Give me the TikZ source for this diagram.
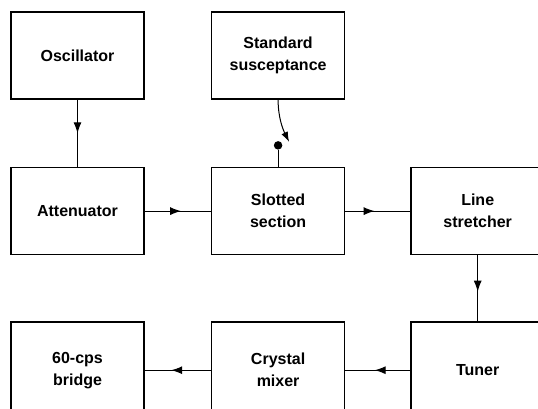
\documentclass[tikz,border=0pt]{standalone}
\usepackage{fontspec}
\setmainfont{Liberation Sans}
\usetikzlibrary{arrows.meta,positioning,decorations.markings}

\begin{document}
\begin{tikzpicture}[
        blk/.style={draw,line width=1.6pt,minimum width=133pt,minimum height=87pt,align=center,
          font=\bfseries\fontsize{16}{22}\selectfont},
        low/.style={blk,minimum height=96pt},
        link/.style={line width=1pt,postaction={decorate},
          decoration={markings,mark=at position #1 with {\arrow{Latex[length=11pt,width=8pt]}}}},
        link/.default=0.55,
        probe/.style={circle,fill,inner sep=0pt,minimum size=8.5pt}
      ]
        \useasboundingbox (0,0) rectangle (538pt,-408pt);
        \clip (0,0) rectangle (538pt,-408pt);

        \node[blk] (osc) at (77.5pt,-55.5pt) {Oscillator};
        \node[blk,below=67pt of osc] (att) {Attenuator};
        \node[blk,right=66pt of att] (slot) {Slotted\\section};
        \node[blk,above=67pt of slot] (std) {Standard\\susceptance};
        \node[blk,right=65pt of slot] (line) {Line\\stretcher};
        \node[low,below=66pt of line] (tuner) {Tuner};
        \node[low,below=66pt of slot] (mix) {Crystal\\mixer};
        \node[low,below=66pt of att] (bridge) {60-cps\\bridge};

        \node[probe,above=17pt of slot] (dot) {};
        \coordinate (tip) at ([xshift=11pt,yshift=-42pt]std.south);

        \draw[link=0.5] (osc) -- (att);
        \draw[link] (att) -- (slot);
        \draw[link=0.45] (slot) -- (line);
        \draw[link] (line) -- (tuner);
        \draw[link] (tuner) -- (mix);
        \draw[link=0.6] (mix) -- (bridge);
        \draw[line width=1pt] (dot) -- (slot.north);
        \draw[line width=1pt,-{Latex[length=10pt,width=7pt]}] (std.south) .. controls +(0,-18pt) and +(-6pt,12pt) .. (tip);
      \end{tikzpicture}
\end{document}
